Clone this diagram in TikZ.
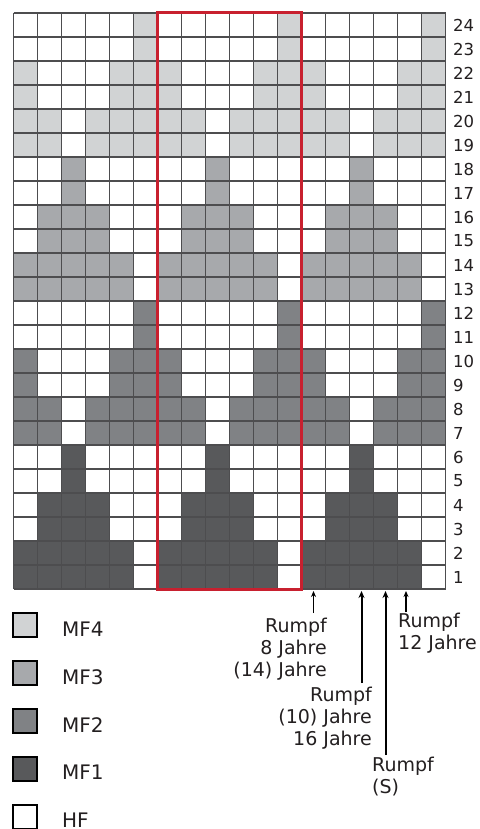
\documentclass[tikz,border=0pt]{standalone}
\usepackage{fontspec}
\setmainfont{DejaVu Sans}
\usetikzlibrary{arrows.meta}
\definecolor{mfd}{HTML}{D1D3D4}
\definecolor{mfc}{HTML}{A7A9AC}
\definecolor{mfb}{HTML}{808285}
\definecolor{mfa}{HTML}{58595B}
\definecolor{gridc}{HTML}{4D4D4F}
\definecolor{redc}{HTML}{C8202F}
\definecolor{txt}{HTML}{231F20}
\tikzset{
  gridline/.style={draw=gridc, line width=1.5pt},
  redframe/.style={draw=redc, line width=3pt},
  rownum/.style={anchor=west, inner sep=0pt, font=\fontsize{16.5}{16.5}\selectfont, text=txt},
  lbl/.style={inner sep=0pt, font=\fontsize{19}{22}\selectfont, text=txt},
  legbox/.style={draw=black, line width=1.8pt},
  legtext/.style={anchor=base west, inner sep=0pt, font=\fontsize{20}{20}\selectfont, text=txt},
  shortarrow/.style={draw=black, line width=1.4pt, -{Stealth[length=6pt,width=5pt]}},
  longarrow/.style={draw=black, line width=2pt, -{Stealth[length=7pt,width=6pt]}}
}
\begin{document}
\begin{tikzpicture}[x=1pt,y=-1pt]
\useasboundingbox (0,0) rectangle (479,829);
\fill[white] (0,0) rectangle (479,829);
% cells
\foreach \r/\ps/\c in {
  1/{1,2,3,4,5}/mfa, 2/{1,2,3,4,5}/mfa, 3/{2,3,4}/mfa, 4/{2,3,4}/mfa, 5/{3}/mfa, 6/{3}/mfa,
  7/{1,2,4,5,6}/mfb, 8/{1,2,4,5,6}/mfb, 9/{1,5,6}/mfb, 10/{1,5,6}/mfb, 11/{6}/mfb, 12/{6}/mfb,
  13/{1,2,3,4,5}/mfc, 14/{1,2,3,4,5}/mfc, 15/{2,3,4}/mfc, 16/{2,3,4}/mfc, 17/{3}/mfc, 18/{3}/mfc,
  19/{1,2,4,5,6}/mfd, 20/{1,2,4,5,6}/mfd, 21/{1,5,6}/mfd, 22/{1,5,6}/mfd, 23/{6}/mfd, 24/{6}/mfd}{
  \foreach \p in \ps {
    \foreach \k in {0,1,2} {
      \fill[\c] ({13.5+(\k*6+\p-1)*24},{13+(24-\r)*24}) rectangle ++(24,24);
    }
  }
}
% grid
\foreach \i in {0,...,18} {
  \draw[gridline] ({13.5+\i*24},13) -- ({13.5+\i*24},589);
}
\foreach \j in {0,...,24} {
  \draw[gridline] (13.5,{13+\j*24}) -- (445.5,{13+\j*24});
}
% red frame
\draw[redframe] (157.5,13) rectangle (301.5,589);
% row numbers
\foreach \r in {1,...,24} {
  \node[rownum] (n\r) at (453,{13+(24-\r)*24+12}) {\r};
}
% arrows
\coordinate (a1s) at (313.5,613);
\coordinate (a1e) at (313.5,591);
\coordinate (a2s) at (361.5,683);
\coordinate (a2e) at (361.5,591);
\coordinate (a3s) at (385.5,755);
\coordinate (a3e) at (385.5,591);
\coordinate (a4s) at (406,612);
\coordinate (a4e) at (406,591);
\draw[shortarrow] (a1s) -- (a1e);
\draw[longarrow] (a2s) -- (a2e);
\draw[longarrow] (a3s) -- (a3e);
\draw[shortarrow] (a4s) -- (a4e);
% labels
\node[lbl, anchor=north east, align=right] (l1) at (327,618) {Rumpf\\8 Jahre\\(14) Jahre};
\node[lbl, anchor=north east, align=right] (l2) at (372,686.5) {Rumpf\\(10) Jahre\\16 Jahre};
\node[lbl, anchor=north west, align=left] (l3) at (372,757) {Rumpf\\(S)};
\node[lbl, anchor=north west, align=left] (l4) at (398,613) {Rumpf\\12 Jahre};
% legend
\foreach \n/\c/\t in {0/mfd/MF4, 1/mfc/MF3, 2/mfb/MF2, 3/mfa/MF1, 4/white/HF} {
  \draw[legbox, fill=\c] (13,{613+\n*48}) rectangle ++(24,24);
  \node[legtext] (leg\n) at (62,{636.5+\n*47.8}) {\t};
}
\end{tikzpicture}
\end{document}
